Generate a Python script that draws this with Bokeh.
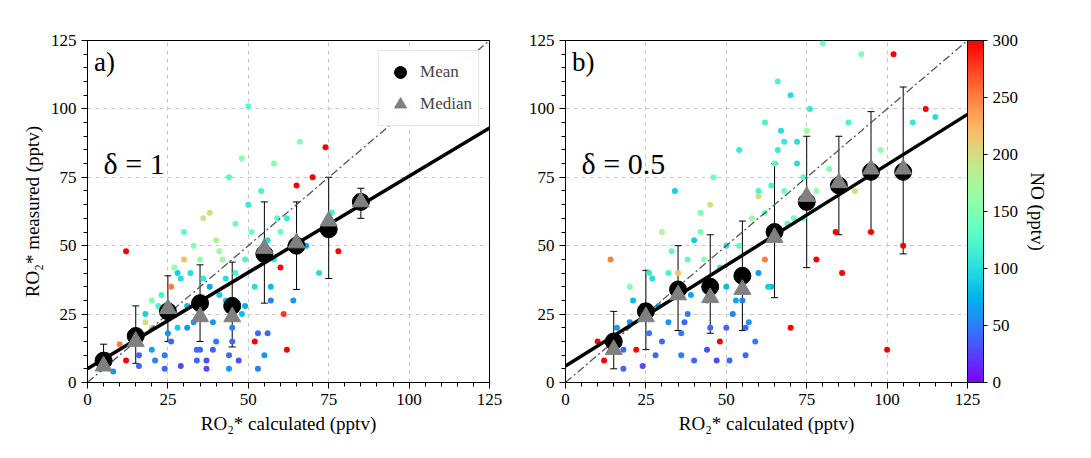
import numpy as np
from bokeh.plotting import figure
from bokeh.layouts import row
from bokeh.models import (ColumnDataSource, Whisker, TeeHead, ColorBar, LinearColorMapper,
                          FixedTicker, Legend, LegendItem, Title)
from bokeh.embed import file_html
from bokeh.resources import INLINE

# panel a) delta = 1 : sample of scatter points (calculated, measured, NO)
a_x = [4, 6, 8, 10, 12, 14, 16, 18, 20, 22, 12, 24, 26, 28, 30, 32, 34, 36, 38, 40,
       42, 44, 46, 48, 50, 52, 54, 56, 58, 60, 62, 64, 66, 68, 70, 72, 74, 76, 78, 84,
       20, 25, 30, 35, 40, 45, 50, 55, 60, 65, 28, 38, 48, 58, 36, 46, 56, 44, 52, 62,
       16, 18, 21, 23, 26, 27, 29, 31, 33, 34, 36, 37, 39, 41, 43, 44, 46, 47, 49, 51,
       53, 54, 57, 59, 61, 63, 20, 24, 29, 33, 37, 41, 45, 49, 53, 57, 31, 35, 39, 43]
a_y = [5, 10, 4, 14, 8, 18, 6, 22, 12, 28, 48, 10, 35, 20, 55, 40, 8, 30, 62, 15,
       45, 5, 58, 25, 101, 35, 70, 18, 80, 42, 60, 30, 88, 50, 75, 40, 86, 62, 48, 68,
       30, 18, 45, 12, 52, 20, 65, 10, 55, 72, 40, 35, 82, 45, 60, 28, 52, 75, 15, 12,
       10, 25, 8, 32, 15, 42, 6, 28, 50, 12, 38, 5, 22, 48, 30, 10, 40, 8, 28, 55,
       18, 45, 30, 60, 25, 50, 20, 5, 38, 22, 8, 32, 15, 45, 5, 35, 20, 45, 12, 38]
a_no = [280, 300, 60, 250, 300, 150, 40, 200, 70, 120, 300, 50, 250, 90, 130, 100, 40, 110, 200, 50,
        170, 60, 140, 80, 130, 100, 120, 40, 150, 300, 110, 60, 150, 70, 300, 100, 300, 120, 300, 130,
        150, 60, 220, 40, 180, 50, 110, 60, 140, 300, 90, 70, 160, 110, 190, 50, 100, 130, 300, 300,
        40, 90, 50, 120, 40, 160, 30, 80, 150, 40, 110, 30, 60, 170, 90, 40, 120, 30, 70, 140,
        40, 110, 50, 130, 280, 110, 200, 40, 100, 60, 30, 90, 40, 120, 50, 80, 60, 160, 40, 100]

a_bin = [5, 15, 25, 35, 45, 55, 65, 75, 85]
a_mean = [8, 17, 26, 29, 28, 47, 50, 56, 66]
a_median = [6, 15, 27, 24, 24, 49, 51, 59, 66]
a_lo = [5, 7, 15, 15, 13, 29, 34, 38, 60]
a_hi = [14, 28, 39, 43, 44, 66, 66, 75, 71]
a_fit = (0.704, 5.0)

# panel b) delta = 0.5
b_x = [10, 12, 14, 16, 18, 20, 22, 24, 26, 28, 30, 32, 34, 36, 38, 40, 42, 44, 46, 48,
       50, 52, 54, 56, 58, 60, 62, 64, 66, 68, 70, 72, 74, 76, 78, 80, 82, 84, 86, 88,
       90, 92, 95, 98, 100, 102, 105, 108, 112, 115, 35, 45, 55, 65, 75, 40, 50, 60, 70, 62,
       18, 21, 24, 27, 30, 33, 36, 39, 42, 45, 48, 51, 54, 57, 60, 63, 66, 69, 72, 75,
       20, 26, 32, 38, 44, 50, 56, 62, 68, 74, 29, 37, 43, 47, 53, 59, 64, 67, 71, 78]
b_y = [15, 8, 45, 20, 5, 35, 12, 28, 40, 10, 55, 22, 70, 18, 45, 8, 62, 30, 75, 15,
       50, 25, 85, 10, 60, 40, 95, 35, 110, 70, 20, 88, 60, 100, 45, 124, 78, 55, 40, 95,
       70, 120, 55, 85, 12, 120, 50, 95, 100, 97, 40, 65, 30, 80, 92, 52, 20, 68, 105, 45,
       12, 30, 6, 38, 15, 48, 10, 32, 55, 20, 42, 8, 50, 22, 70, 35, 85, 58, 80, 65,
       22, 18, 40, 25, 12, 35, 20, 62, 88, 75, 28, 22, 45, 8, 30, 15, 72, 92, 60, 70]
b_no = [300, 300, 250, 60, 40, 150, 300, 50, 110, 40, 180, 60, 90, 50, 130, 40, 150, 70, 140, 300,
        100, 50, 110, 40, 170, 60, 120, 80, 120, 140, 300, 100, 130, 110, 300, 140, 150, 300, 300, 120,
        200, 150, 300, 160, 300, 300, 300, 110, 300, 100, 220, 200, 50, 130, 170, 90, 40, 200, 100, 250,
        40, 80, 30, 100, 40, 130, 50, 70, 150, 40, 110, 40, 130, 60, 120, 90, 110, 130, 100, 120,
        60, 50, 120, 50, 30, 80, 40, 140, 110, 130, 70, 40, 160, 30, 70, 50, 120, 100, 140, 160]

b_bin = [15, 25, 35, 45, 55, 65, 75, 85, 95, 105]
b_mean = [15, 26, 34, 35, 39, 55, 66, 72, 77, 77]
b_median = [12, 24, 32, 31, 34, 53, 68, 73, 78, 78]
b_lo = [5, 12, 19, 18, 19, 31, 42, 54, 55, 47]
b_hi = [26, 41, 50, 54, 59, 80, 90, 90, 99, 108]
b_fit = (0.736, 6.0)

ticks = [0, 25, 50, 75, 100, 125]

# matplotlib-like "rainbow" palette
t = np.linspace(0, 1, 256)
rgb = np.stack([np.clip(np.abs(2 * t - 0.5), 0, 1), np.sin(np.pi * t), np.cos(np.pi * t / 2)], axis=1)
palette = ["#%02x%02x%02x" % tuple(int(round(c * 255)) for c in col) for col in rgb]
mapper = LinearColorMapper(palette=palette, low=0, high=300)

SERIF = "Liberation Serif"


def panel(xs, ys, nos, bins, mean, median, lo, hi, fit, label, delta, left, right, ylabel):
    p = figure(frame_width=402, frame_height=342, x_range=(0, 125), y_range=(0, 125),
               min_border_left=left, min_border_right=right, min_border_top=40, min_border_bottom=58,
               output_backend="svg", toolbar_location=None)
    p.outline_line_color = "black"
    for ax in (p.xaxis[0], p.yaxis[0]):
        ax.ticker = FixedTicker(ticks=ticks, minor_ticks=list(range(0, 126, 5)))
        ax.major_label_text_font = SERIF
        ax.major_label_text_font_size = "17px"
        ax.major_label_text_color = "black"
        ax.axis_label_text_font = SERIF
        ax.axis_label_text_font_size = "19px"
        ax.axis_label_text_font_style = "normal"
        ax.axis_label_text_color = "black"
        ax.axis_line_color = "black"
        ax.major_tick_line_color = "black"
        ax.minor_tick_line_color = "black"
        ax.major_tick_in = 0
        ax.minor_tick_in = 0
    for g in (p.xgrid[0], p.ygrid[0]):
        g.ticker = FixedTicker(ticks=ticks)
        g.grid_line_dash = "4 4"
        g.grid_line_color = "#c8c8c8"
    p.xaxis.axis_label = "RO\u2082* calculated (pptv)"
    if ylabel:
        p.yaxis.axis_label = "RO\u2082* measured (pptv)"

    src = ColumnDataSource(dict(x=xs, y=ys, no=nos))
    p.scatter("x", "y", source=src, size=6, line_color=None,
              fill_color={"field": "no", "transform": mapper})

    p.line([0, 125], [0, 125], line_dash="8 3 2 3", line_color="#555555", line_width=1.3)
    p.line([0, 125], [fit[1], fit[0] * 125 + fit[1]], line_color="black", line_width=3.5)

    es = ColumnDataSource(dict(x=bins, lo=lo, hi=hi, mean=mean, median=median))
    p.add_layout(Whisker(source=es, base="x", lower="lo", upper="hi", line_width=1,
                         upper_head=TeeHead(size=7, line_width=1),
                         lower_head=TeeHead(size=7, line_width=1)))
    rm = p.scatter("x", "mean", source=es, size=17, color="black")
    rd = p.scatter("x", "median", source=es, marker="triangle", size=17, color="gray")

    p.text([2], [117], text=[label], text_font={"value": SERIF}, text_font_size="27px",
           text_baseline="middle")
    p.text([5], [80], text=[delta], text_font={"value": SERIF}, text_font_size="30px",
           text_baseline="middle")
    return p, rm, rd


pa, rm, rd = panel(a_x, a_y, a_no, a_bin, a_mean, a_median, a_lo, a_hi, a_fit,
                   "a)", "\u03b4 = 1", 87, 20, True)
legend = Legend(items=[LegendItem(label="Mean", renderers=[rm]),
                       LegendItem(label="Median", renderers=[rd])],
                location="top_right", label_text_font=SERIF, label_text_font_size="17px",
                glyph_width=30, glyph_height=30, spacing=2, margin=10, padding=6,
                border_line_color="#cccccc")
pa.add_layout(legend)

pb, _, _ = panel(b_x, b_y, b_no, b_bin, b_mean, b_median, b_lo, b_hi, b_fit,
                 "b)", "\u03b4 = 0.5", 56, 100, False)
cb = ColorBar(color_mapper=mapper, ticker=FixedTicker(ticks=[0, 50, 100, 150, 200, 250, 300]),
              width=16, padding=0, margin=28, major_label_text_font=SERIF,
              major_label_text_font_size="17px", major_label_text_color="black",
              bar_line_color="black", major_tick_line_color="black", major_tick_out=4, major_tick_in=0)
pb.add_layout(cb, "right")
pb.add_layout(Title(text="NO (pptv)", align="center", text_font=SERIF, text_color="black",
                    text_font_size="19px", text_font_style="normal"), "right")

layout = row(pa, pb)
open("out.html", "w").write(file_html(layout, INLINE))
